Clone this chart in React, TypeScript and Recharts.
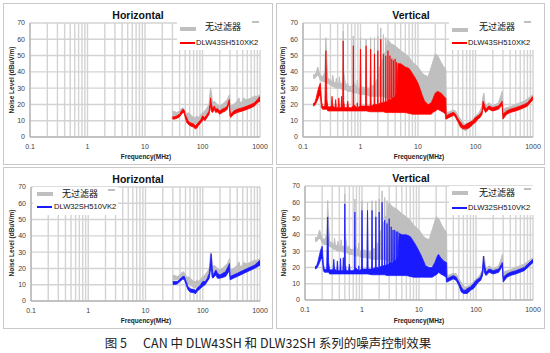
import React from 'react';
import { ComposedChart, Area, XAxis, YAxis, CartesianGrid } from 'recharts';

type Pt = [number, number, number]; // [frequency MHz, low dB, high dB]

// "No filter" reference, horizontal polarisation (30 MHz - 1 GHz)
const grayH: Pt[] = [
  [30, 13, 16], [33, 13, 15.5], [36, 13, 15], [40, 14, 16], [43, 15, 17.5], [46, 15.5, 18], [50, 13, 16],
  [53, 11, 14], [56, 10, 15], [60, 10, 14], [65, 9, 13], [70, 8, 12], [75, 8, 12], [80, 9, 13], [85, 9, 12],
  [90, 10, 13], [95, 10, 14], [100, 12, 15], [110, 13, 16], [120, 15, 18], [130, 17, 20], [135, 22, 27],
  [138, 24, 30], [142, 19, 28], [150, 17, 21], [160, 18, 22], [170, 17, 21], [180, 16, 20], [200, 16, 19],
  [220, 17, 20], [250, 18, 22], [270, 19, 23], [285, 22, 25], [295, 24, 26], [300, 16, 20], [310, 15, 19],
  [350, 16, 20], [400, 17, 22], [430, 17, 24], [450, 18, 21], [500, 18, 22], [520, 18, 24], [550, 19, 23],
  [600, 19, 23], [700, 20, 24], [800, 21, 25], [900, 22, 25], [1000, 23, 26],
];

// DLW43SH510XK2, horizontal
const redH: Pt[] = [
  [30, 11, 12.5], [33, 11, 12.5], [36, 11.5, 13], [40, 12.5, 14], [43, 14, 16], [46, 15, 17], [48, 15, 16.5],
  [50, 12, 14], [53, 9, 12], [56, 8, 10], [60, 7, 9], [65, 6.5, 8.5], [70, 6, 8], [75, 5, 7], [80, 5.5, 8],
  [85, 7, 9], [90, 8, 10], [95, 9, 11], [100, 10, 13], [105, 11, 12.5], [110, 10, 12], [120, 12, 14],
  [130, 14, 16], [135, 17, 20], [138, 20, 24], [142, 16, 21], [150, 15, 17], [160, 17, 19], [165, 16, 18],
  [170, 15, 17], [180, 15.5, 17.5], [200, 14, 16], [220, 15, 17], [250, 16, 18], [270, 17, 19], [285, 20, 22],
  [293, 21, 23], [300, 13, 16], [310, 12, 14], [350, 14, 16], [400, 15, 17], [500, 16, 18], [600, 17, 19],
  [700, 18, 20], [800, 19, 21], [900, 21, 23], [1000, 22, 25],
];

// DLW32SH510VK2, horizontal
const blueH: Pt[] = [
  [30, 10, 12], [36, 10.5, 12], [40, 12, 13.5], [45, 13.5, 15], [48, 13, 15], [50, 11, 13], [55, 7, 9],
  [60, 5.5, 7.5], [70, 5, 7], [75, 4.5, 6.5], [80, 6, 8], [90, 7.5, 9.5], [100, 9, 12], [110, 10, 12],
  [120, 12, 14], [130, 14, 17], [135, 18, 23], [140, 22, 29], [145, 15, 22], [150, 14, 16], [170, 16, 19],
  [180, 14, 17], [200, 14, 16], [250, 15, 18], [285, 18, 22], [293, 20, 23], [300, 13, 15], [400, 15, 17],
  [600, 18, 20], [800, 20, 22], [1000, 22, 25],
];

// "No filter" reference, vertical polarisation (150 kHz - 1 GHz)
const grayV: Pt[] = [
  [0.15, 36, 38.5], [0.16, 36, 38], [0.17, 37, 39.5], [0.18, 38, 43], [0.19, 37, 40], [0.2, 35, 38],
  [0.22, 34, 37], [0.24, 34, 40], [0.25, 34, 61], [0.26, 33, 46], [0.27, 33, 36], [0.3, 32, 35],
  [0.32, 31, 34], [0.33, 31, 38], [0.34, 31, 34], [0.37, 30, 33], [0.38, 30, 36], [0.39, 30, 33],
  [0.42, 30, 33], [0.43, 30, 37], [0.44, 30, 33], [0.49, 29, 33], [0.5, 29, 65], [0.51, 29, 40],
  [0.55, 29, 32], [0.6, 28, 33], [0.62, 28, 31], [0.7, 28, 31], [0.74, 27, 32], [0.75, 27, 62],
  [0.76, 27, 34], [0.86, 27, 30], [0.88, 27, 35], [0.9, 27, 30], [0.98, 26, 30], [1.0, 26, 61],
  [1.02, 26, 31], [1.22, 26, 30], [1.25, 26, 60], [1.28, 26, 30], [1.47, 25, 30], [1.5, 25, 61],
  [1.53, 25, 31], [1.72, 25, 32], [1.75, 25, 61], [1.78, 25, 33], [1.97, 25, 36], [2.0, 25, 62],
  [2.03, 25, 40], [2.22, 25, 44], [2.25, 25, 67], [2.28, 25, 47], [2.47, 25, 48], [2.5, 25, 63],
  [2.53, 25, 51], [2.72, 24, 52], [2.75, 24, 61], [2.78, 24, 54], [3.0, 24, 60], [3.25, 24, 58],
  [3.5, 24, 57], [4, 24, 56], [5, 23, 53], [6, 22, 51], [7, 22, 49], [8, 21, 46], [10, 21, 43],
  [12, 21, 39], [13, 21, 38], [15, 21, 37], [17, 21, 43], [20, 22, 51], [22, 22, 50], [25, 22, 46],
  [28, 22, 43], [30, 22, 42], [30.5, 12, 40], [31, 12, 15], [35, 13, 15.5], [40, 14, 16.5], [45, 13.5, 16],
  [50, 10, 13], [55, 7, 11], [60, 5, 9], [65, 4, 8], [70, 4, 8], [80, 6, 9.5], [90, 7, 11], [100, 10, 13],
  [110, 11, 14], [120, 12, 16], [130, 15, 19], [135, 19, 25], [140, 18, 27], [145, 16, 22], [150, 16, 19],
  [170, 18, 21], [200, 16, 19], [250, 18, 21], [280, 21, 26], [290, 22, 28], [295, 20, 26], [300, 13, 17],
  [350, 15, 18], [400, 16, 18.5], [500, 17, 20], [700, 19, 22], [1000, 23, 26],
];

// DLW43SH510XK2, vertical
const redV: Pt[] = [
  [0.15, 19, 20.5], [0.16, 19.5, 21], [0.17, 21, 24], [0.18, 23, 28], [0.19, 25, 31], [0.2, 26, 33],
  [0.205, 22, 28], [0.21, 18, 22], [0.22, 17, 18.5], [0.24, 17, 19], [0.25, 17, 53], [0.26, 17, 23],
  [0.27, 16, 18.5], [0.31, 16, 18.5], [0.32, 16, 25], [0.33, 16, 19], [0.36, 16, 18], [0.37, 16, 23],
  [0.38, 16, 18], [0.41, 16, 18], [0.42, 16, 24], [0.43, 16, 18], [0.46, 16, 18], [0.47, 16, 25],
  [0.48, 16, 18], [0.49, 16, 19], [0.5, 16, 59], [0.51, 16, 22], [0.53, 16, 18], [0.58, 16, 18],
  [0.6, 16, 22], [0.62, 16, 18], [0.7, 16, 18], [0.74, 16, 19], [0.75, 16, 56], [0.76, 16, 20],
  [0.87, 16, 18], [0.88, 16, 21], [0.89, 16, 18], [0.98, 16, 19], [1.0, 16, 54], [1.02, 16, 19],
  [1.22, 16, 19], [1.25, 16, 56], [1.28, 16, 19], [1.47, 15.5, 19], [1.5, 15.5, 54], [1.53, 15.5, 19],
  [1.72, 15.5, 20], [1.75, 15.5, 51], [1.78, 15.5, 20], [1.97, 15.5, 20], [2.0, 15.5, 53], [2.03, 15.5, 20],
  [2.22, 15.5, 21], [2.25, 15.5, 60], [2.28, 15.5, 21], [2.47, 15.5, 21], [2.5, 15.5, 51], [2.53, 15.5, 21],
  [2.72, 15, 22], [2.75, 15, 50], [2.78, 15, 22], [2.97, 15, 22], [3.0, 15, 53], [3.03, 15, 23],
  [3.22, 15, 23], [3.25, 15, 50], [3.28, 15, 23], [3.47, 15, 23], [3.5, 15, 48], [3.53, 15, 24],
  [3.72, 15, 24], [3.75, 15, 47], [3.78, 15, 24], [3.97, 15, 25], [4.0, 15, 48], [4.03, 15, 26],
  [4.22, 15, 27], [4.25, 15, 46], [4.28, 15, 28], [4.5, 15, 45], [5, 15, 45], [6, 15, 43], [7, 14.5, 42],
  [8, 14, 39], [9, 14, 36], [10, 14, 33], [11, 14, 29], [12, 14, 25], [13, 14, 22], [15, 14, 20],
  [17, 14, 21], [18, 15, 23], [20, 16, 27], [22, 17, 28], [25, 16, 27], [28, 15, 25], [30, 14, 24],
  [30.5, 11, 24], [31, 11, 13], [35, 12, 14], [40, 13, 15], [42, 13.5, 15], [45, 12, 14], [50, 9, 11],
  [55, 6, 9], [60, 5, 7], [65, 5, 7], [70, 5, 8], [80, 6, 9], [90, 8, 10], [100, 9, 12], [110, 11, 13],
  [120, 12, 14], [130, 14, 16], [135, 18, 22], [140, 17, 21], [150, 15, 17], [170, 17, 19], [200, 16, 18],
  [250, 17, 19], [280, 19, 21], [290, 20, 22], [300, 11, 14], [350, 14, 16], [400, 15, 17], [500, 16, 18],
  [600, 17, 19], [700, 18, 20], [800, 19, 21], [1000, 23, 25],
];

// DLW32SH510VK2, vertical
const blueV: Pt[] = [
  [0.15, 19, 20.5], [0.16, 19.5, 21], [0.17, 21, 24], [0.18, 23, 28], [0.19, 25, 31], [0.2, 26, 33],
  [0.205, 22, 28], [0.21, 18, 22], [0.22, 17, 18.5], [0.24, 17, 19], [0.25, 17, 51], [0.26, 17, 23],
  [0.27, 16, 18.5], [0.31, 16, 18.5], [0.32, 16, 25], [0.33, 16, 19], [0.36, 16, 18], [0.37, 16, 24],
  [0.38, 16, 18], [0.41, 16, 18], [0.42, 16, 25.5], [0.43, 16, 18], [0.46, 16, 18], [0.47, 16, 26],
  [0.48, 16, 18], [0.49, 16, 19], [0.5, 16, 59], [0.51, 16, 22], [0.53, 16, 18], [0.58, 16, 18],
  [0.6, 16, 22], [0.62, 16, 18], [0.7, 16, 18], [0.74, 16, 19], [0.75, 16, 54], [0.76, 16, 20],
  [0.87, 16, 18], [0.88, 16, 21], [0.89, 16, 18], [0.98, 16, 19], [1.0, 16, 55], [1.02, 16, 19],
  [1.22, 16, 19], [1.25, 16, 55], [1.28, 16, 19], [1.47, 15.5, 19], [1.5, 15.5, 55], [1.53, 15.5, 19],
  [1.72, 15.5, 20], [1.75, 15.5, 51], [1.78, 15.5, 20], [1.97, 15.5, 20], [2.0, 15.5, 54], [2.03, 15.5, 20],
  [2.22, 15.5, 21], [2.25, 15.5, 60], [2.28, 15.5, 21], [2.47, 15.5, 21], [2.5, 15.5, 49], [2.53, 15.5, 21],
  [2.72, 15, 22], [2.75, 15, 47], [2.78, 15, 22], [2.97, 15, 22], [3.0, 15, 50], [3.03, 15, 23],
  [3.22, 15, 23], [3.25, 15, 45], [3.28, 15, 23], [3.47, 15, 23], [3.5, 15, 43], [3.53, 15, 24],
  [3.72, 15, 24], [3.75, 15, 43], [3.78, 15, 24], [3.97, 15, 25], [4.0, 15, 42], [4.03, 15, 26],
  [4.22, 15, 27], [4.25, 15, 42], [4.28, 15, 28], [4.5, 15, 41], [5, 15, 40], [6, 15, 40], [7, 14.5, 39],
  [8, 14, 36], [9, 14, 33], [10, 14, 30], [11, 14, 27], [12, 14, 24], [13, 14, 21], [15, 14, 20],
  [17, 14, 20], [19, 15, 23], [21, 16, 27], [22, 17, 28], [24, 16, 26], [27, 15, 24], [30, 14, 23],
  [30.5, 11, 23], [31, 11, 13], [35, 12, 14], [40, 13, 15], [45, 12, 14], [50, 9, 11], [55, 5, 8],
  [60, 4, 6], [65, 4, 6], [70, 4, 7], [80, 6, 8], [90, 7, 10], [100, 9, 12], [110, 11, 13], [120, 12, 14],
  [130, 15, 18], [135, 22, 27], [140, 17, 22], [150, 15, 17], [170, 17, 19], [200, 16, 18], [250, 17, 19],
  [280, 20, 22], [290, 21, 23], [300, 11, 14], [350, 14, 16], [400, 15, 17], [500, 16, 18], [700, 18, 20],
  [1000, 23, 25],
];

const xTicks = [
  0.1, 0.2, 0.3, 0.4, 0.5, 0.6, 0.7, 0.8, 0.9,
  1, 2, 3, 4, 5, 6, 7, 8, 9,
  10, 20, 30, 40, 50, 60, 70, 80, 90,
  100, 200, 300, 400, 500, 600, 700, 800, 900, 1000,
];
const xLabels = ['0.1', '1', '10', '100', '1000'];
const yTicks = [0, 10, 20, 30, 40, 50, 60, 70];

const titles = ['Horizontal', 'Vertical'];
const legendNames = ['无过滤器', 'DLW43SH510XK2', 'DLW32SH510VK2'];
const yLabel = 'Noise Level (dBuV/m)';
const xLabel = 'Frequency(MHz)';

const GRAY = '#bfbfbf';
const RED = '#ff0000';
const BLUE = '#1a1aff';
const LAT = '"Liberation Sans", Arial, sans-serif';
const CJK = '"Noto Sans CJK SC", "Noto Sans", sans-serif';

const toData = (pts: Pt[]) => pts.map(([f, lo, hi]) => ({ f, v: [lo, hi] }));

const fmtX = (v: number) => {
  const s = String(v);
  return xLabels.includes(s) ? s : '';
};

function Chart({ left, top, pw, gray, series, color }: { left: number; top: number; pw: number; gray: Pt[]; series: Pt[]; color: string }) {
  return (
    <div style={{ position: 'absolute', left, top }}>
      <ComposedChart width={28 + pw + 12} height={162} margin={{ top: 20, right: 12, bottom: 0, left: 0 }}>
        <CartesianGrid stroke="#d3d3d3" strokeWidth={1.4} />
        <XAxis
          type="number"
          dataKey="f"
          scale="log"
          domain={[0.1, 1000]}
          ticks={xTicks}
          interval={0}
          tickFormatter={fmtX}
          height={28}
          tickLine={false}
          tickSize={5}
          tickMargin={2}
          axisLine={{ stroke: '#a6a6a6' }}
          tick={{ fontSize: 7, fill: '#404040', fontFamily: LAT }}
          allowDataOverflow
        />
        <YAxis
          type="number"
          domain={[0, 70]}
          ticks={yTicks}
          interval={0}
          width={28}
          tickLine={false}
          tickSize={3}
          tickMargin={2}
          axisLine={{ stroke: '#a6a6a6' }}
          tick={{ fontSize: 7, fill: '#404040', fontFamily: LAT }}
        />
        <Area data={toData(gray)} dataKey="v" type="linear" stroke={GRAY} strokeWidth={1} fill={GRAY} fillOpacity={1} dot={false} activeDot={false} isAnimationActive={false} />
        <Area data={toData(series)} dataKey="v" type="linear" stroke={color} strokeWidth={0.8} fill={color} fillOpacity={1} dot={false} activeDot={false} isAnimationActive={false} />
      </ComposedChart>
    </div>
  );
}

const abs = (left: number, top: number, extra: React.CSSProperties = {}): React.CSSProperties => ({ position: 'absolute', left, top, ...extra });

function Texts({ cx, ty, ylx, yly, fly, title }: { cx: number; ty: number; ylx: number; yly: number; fly: number; title: string }) {
  return (
    <>
      <div style={abs(cx, ty, { transform: 'translate(-50%,-50%)', fontFamily: LAT, fontWeight: 700, fontSize: 10.5, color: '#111', whiteSpace: 'nowrap', lineHeight: '12px' })}>{title}</div>
      <div style={abs(ylx, yly, { transform: 'translate(-50%,-50%) rotate(-90deg)', fontFamily: LAT, fontWeight: 700, fontSize: 6.5, color: '#222', whiteSpace: 'nowrap', lineHeight: '8px' })}>{yLabel}</div>
      <div style={abs(cx + 8, fly, { transform: 'translate(-50%,-50%)', fontFamily: LAT, fontWeight: 700, fontSize: 6.5, color: '#222', whiteSpace: 'nowrap', lineHeight: '8px' })}>{xLabel}</div>
    </>
  );
}

function Legend({ bx, by, bw, bh, gx, gy, t1x, t1y, cx, cy, t2x, t2y, color, name }: any) {
  return (
    <>
      <div style={abs(bx, by, { width: bw, height: bh, background: '#fff' })} />
      <div style={abs(bx + bw - 10, by + 2, { width: 7, height: 2, background: GRAY })} />
      <div style={abs(gx, gy - 2, { width: 16, height: 4, background: GRAY })} />
      <div style={abs(t1x, t1y - 6, { fontFamily: CJK, fontSize: 9, lineHeight: '12px', color: '#111', whiteSpace: 'nowrap' })}>{legendNames[0]}</div>
      <div style={abs(cx, cy - 1, { width: 15, height: 2, background: color })} />
      <div style={abs(t2x, t2y - 5, { fontFamily: LAT, fontSize: 7.6, lineHeight: '10px', color: '#111', whiteSpace: 'nowrap' })}>{name}</div>
    </>
  );
}

const frame = (left: number, top: number, width: number, height: number): React.CSSProperties => ({
  position: 'absolute', left, top, width: width - 2, height: height - 2, border: '1px solid #c8c8c8', background: '#fff',
});

export default function App() {
  return (
    <div style={{ position: 'fixed', left: 0, top: 0, width: 550, height: 353, background: '#fff', overflow: 'hidden' }}>
      <div style={frame(3, 3, 270, 162)} />
      <div style={frame(276, 3, 269, 162)} />
      <div style={frame(3, 167, 270, 162)} />
      <div style={frame(276, 167, 269, 162)} />

      <Chart left={2} top={3} pw={230} gray={grayH} series={redH} color={RED} />
      <Chart left={275} top={3} pw={230} gray={grayV} series={redV} color={RED} />
      <Chart left={3} top={167} pw={229} gray={grayH} series={blueH} color={BLUE} />
      <Chart left={277} top={166} pw={228} gray={grayV} series={blueV} color={BLUE} />

      <Texts cx={138} ty={15} ylx={12} yly={80} fly={157} title={titles[0]} />
      <Texts cx={411} ty={15} ylx={283} yly={80} fly={157} title={titles[1]} />
      <Texts cx={138} ty={179} ylx={12} yly={243} fly={321} title={titles[0]} />
      <Texts cx={411} ty={178} ylx={284} yly={243} fly={321} title={titles[1]} />

      <Legend bx={177} by={19} bw={85} bh={31} gx={180} gy={29} t1x={205} t1y={27} cx={180} cy={43} t2x={196} t2y={43} color={RED} name={legendNames[1]} />
      <Legend bx={449} by={19} bw={85} bh={31} gx={452} gy={30} t1x={479} t1y={27} cx={452} cy={43} t2x={468} t2y={43} color={RED} name={legendNames[1]} />
      <Legend bx={33} by={187} bw={85} bh={28} gx={37} gy={194} t1x={62} t1y={194} cx={37} cy={207} t2x={54} t2y={207} color={BLUE} name={legendNames[2]} />
      <Legend bx={449} by={186} bw={85} bh={29} gx={452} gy={193} t1x={479} t1y={193} cx={452} cy={208} t2x={468} t2y={208} color={BLUE} name={legendNames[2]} />

      <div style={abs(268, 343, { transform: 'translate(-50%,-50%)', fontFamily: CJK, fontSize: 12.5, lineHeight: '16px', color: '#222', whiteSpace: 'pre' })}>
        图 5<span style={{ marginLeft: 16 }}>CAN 中 DLW43SH 和 DLW32SH 系列的噪声控制效果</span>
      </div>
    </div>
  );
}
